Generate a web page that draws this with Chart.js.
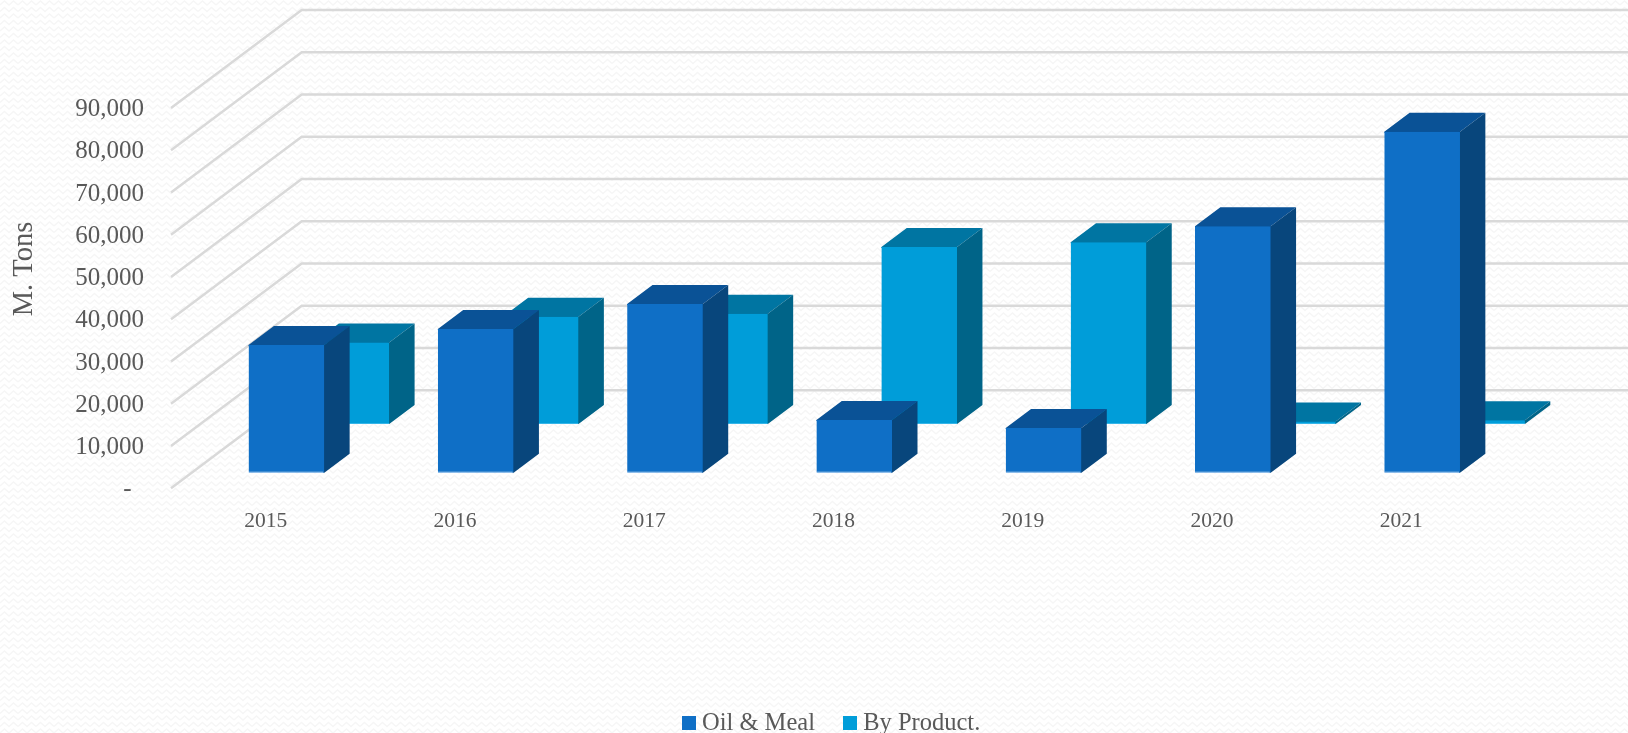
<!DOCTYPE html>
<html><head><meta charset="utf-8">
<script src="https://cdn.jsdelivr.net/npm/chart.js@4"></script>
<style>
html,body{margin:0;padding:0;width:1628px;height:733px;overflow:hidden;
background-color:#fff;
background-image:url("data:image/svg+xml;utf8,<svg xmlns='http://www.w3.org/2000/svg' width='18' height='13'><path d='M0 5 L4.5 1 L9 5 L13.5 1 L18 5 M0 11.5 L4.5 7.5 L9 11.5 L13.5 7.5 L18 11.5' fill='none' stroke='%23f6f6f6' stroke-width='1.4'/></svg>");}
canvas{display:block}
</style></head><body>
<canvas id="c" width="1628" height="733"></canvas>
<script>
const categories = ['2015','2016','2017','2018','2019','2020','2021'];
const oilMeal = [30200,34000,39900,12500,10600,58300,80700];
const byProduct = [19300,25400,26100,41900,43000,600,900];
const seriesNames = ['Oil & Meal','By Product.'];
const frontColors = ['#0F6FC6','#009DD9'];
const topColors = ['#0A5296','#0075A2'];
const sideColors = ['#08467C','#006488'];
const edgeColors = ['#3D8FDC','#35B5E8'];
const axisTitle = 'M. Tons';

const WALL_DX = 130.7, WALL_DY = 98;
const SERIES_DEPTH = [0.159, 0.656];
const BAR_DEPTH = 0.194;
const FONT = '"Liberation Serif", serif';
const TEXT = '#595959';

function swatch(color){
  const s = document.createElement('canvas');
  s.width = 14; s.height = 14;
  const g = s.getContext('2d');
  g.fillStyle = color; g.fillRect(0,0,14,14);
  return s;
}
function poly(ctx, pts, color){
  ctx.beginPath();
  pts.forEach((p,i)=> i ? ctx.lineTo(p[0],p[1]) : ctx.moveTo(p[0],p[1]));
  ctx.closePath();
  ctx.fillStyle = color;
  ctx.fill();
}
const plugin3d = {
  id:'plugin3d',
  beforeLayout(chart){
    const l = chart.legend;
    if(l && !l._zeroFit){
      const fit = l.fit.bind(l);
      l.fit = function(){ fit(); this.height = 0; };
      l._zeroFit = true;
    }
  },
  afterLayout(chart){
    const l = chart.legend;
    if(l){ l.left += 1; l.top = 677; l.bottom = 769; }
  },
  beforeDatasetsDraw(chart){
    const y = chart.scales.y, ctx = chart.ctx, left = chart.chartArea.left;
    ctx.save();
    ctx.strokeStyle = '#D9D9D9';
    ctx.lineWidth = 2.4;
    ctx.lineJoin = 'miter';
    y.ticks.forEach(t=>{
      const py = y.getPixelForValue(t.value);
      ctx.beginPath();
      ctx.moveTo(left, py);
      ctx.lineTo(left+WALL_DX, py-WALL_DY);
      ctx.lineTo(chart.width, py-WALL_DY);
      ctx.stroke();
    });
    ctx.restore();
    ctx.save();
    ctx.font = '28.5px '+FONT;
    ctx.fillStyle = TEXT;
    ctx.textAlign = 'center';
    ctx.textBaseline = 'middle';
    ctx.translate(25,269);
    ctx.rotate(-Math.PI/2);
    ctx.fillText(axisTitle,0,0);
    ctx.restore();
  },
  afterDatasetsUpdate(chart){
    chart.getSortedVisibleDatasetMetas().forEach(meta=>{
      const f = SERIES_DEPTH[meta.index];
      meta.data.forEach(el=>{
        el.x += f*WALL_DX;
        el.y -= f*WALL_DY;
        el.base -= f*WALL_DY;
      });
    });
  },
  beforeDatasetDraw(chart,args){
    const ctx = chart.ctx, i = args.index, dx = BAR_DEPTH*WALL_DX, dy = BAR_DEPTH*WALL_DY;
    ctx.save();
    args.meta.data.forEach(el=>{
      const l = el.x-el.width/2, r = el.x+el.width/2, t = el.y, b = el.base;
      poly(ctx,[[l,t+1],[l,t],[l+dx,t-dy],[r+dx,t-dy],[r,t],[r,t+1]],topColors[i]);
      poly(ctx,[[r-1,t],[r,t],[r+dx,t-dy],[r+dx,b-dy],[r,b],[r-1,b]],sideColors[i]);
    });
    ctx.restore();
  }
};
new Chart(document.getElementById('c'),{
  type:'bar',
  data:{labels:categories,datasets:[
    {label:seriesNames[0],data:oilMeal,backgroundColor:frontColors[0],borderColor:edgeColors[0]},
    {label:seriesNames[1],data:byProduct,backgroundColor:frontColors[1],borderColor:edgeColors[1]}
  ]},
  options:{
    responsive:false,animation:false,devicePixelRatio:1,
    layout:{padding:{left:0,right:132,top:108,bottom:0}},
    datasets:{bar:{grouped:false,barPercentage:0.4,categoryPercentage:1,clip:false,borderWidth:{bottom:1},borderSkipped:false}},
    plugins:{
      title:{display:false},
      tooltip:{enabled:false},
      legend:{
        position:'bottom',fullSize:false,
        labels:{
          color:TEXT,padding:34,usePointStyle:true,pointStyleWidth:2,
          font:{family:FONT,size:24.5},
          generateLabels(chart){
            return Chart.defaults.plugins.legend.labels.generateLabels(chart).map((it,i)=>{
              it.pointStyle = swatch(frontColors[i]); it.lineWidth = 0; return it;
            });
          }
        }
      }
    },
    scales:{
      x:{
        grid:{display:false},border:{display:false},
        ticks:{color:TEXT,font:{family:FONT,size:21.5},padding:12,maxRotation:0},
        afterFit(s){s.height=244.7;}
      },
      y:{
        min:0,max:90000,
        grid:{display:false,drawTicks:false},border:{display:false},
        ticks:{
          stepSize:10000,color:TEXT,font:{family:FONT,size:25},padding:27,labelOffset:1.5,
          callback(v){return v===0?'-  ':v.toLocaleString('en-US');}
        },
        afterFit(s){s.width=171;}
      }
    }
  },
  plugins:[plugin3d]
});
</script>
</body></html>
